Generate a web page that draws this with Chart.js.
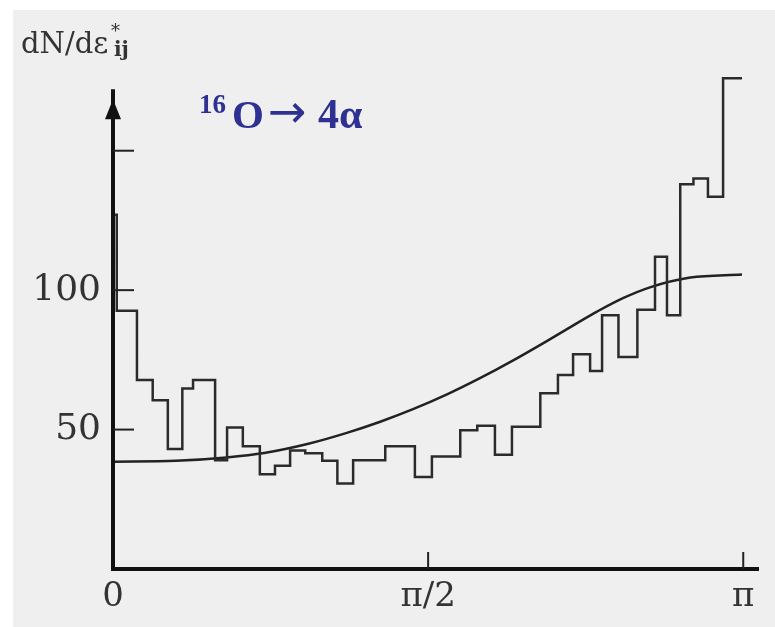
<!DOCTYPE html>
<html>
<head>
<meta charset="utf-8">
<script src="https://cdn.jsdelivr.net/npm/chart.js@4/dist/chart.umd.min.js"></script>
<style>
html,body{margin:0;padding:0;background:#fff;}
canvas{display:block;}
</style>
</head>
<body>
<canvas id="c" width="775" height="627"></canvas>
<script>
// ---- data (x in units of pi) ----
const binEdges = [0, 0.006, 0.038, 0.063, 0.087, 0.110, 0.127, 0.162, 0.181, 0.206,
  0.233, 0.257, 0.281, 0.305, 0.332, 0.356, 0.381, 0.432, 0.479, 0.506,
  0.551, 0.578, 0.606, 0.633, 0.678, 0.706, 0.730, 0.757, 0.776, 0.802,
  0.832, 0.860, 0.879, 0.900, 0.921, 0.944, 0.968, 0.998];
const binCounts = [127, 92.6, 67.8, 60.5, 43, 64.7, 67.8, 39, 50.7, 44,
  34, 37, 42.5, 41.5, 38.8, 30.7, 39, 44, 33, 40.3,
  49.8, 51.4, 41, 51, 63, 69.6, 77, 71, 91, 76,
  93, 112, 91, 138, 140, 133.5, 176];
const curveX = [0, 0.1, 0.18, 0.24, 0.31, 0.371, 0.424, 0.476, 0.53, 0.583, 0.635, 0.689, 0.741, 0.768, 0.81, 0.852, 0.916, 0.998];
const curveY = [38.5, 38.8, 40, 41.6, 44.9, 48.8, 52.8, 57.3, 62.6, 68.5, 74.8, 81.8, 88.8, 92.3, 97.2, 101, 104.5, 105.6];
const xTickValues = [0, 0.5, 1];
const xTickLabels = ['0', 'π/2', 'π'];
const yTickValues = [50, 100, 150];
const yTickLabels = ['50', '100', ''];
const yLabelText = 'dN/dε';
const titleParts = ['16', 'O', '→', '4α'];

const histPts = binEdges.map((e, i) => ({x: e, y: binCounts[Math.min(i, binCounts.length - 1)]}));
const curvePts = curveX.map((x, i) => ({x: x, y: curveY[i]}));

const deco = {
  id: 'deco',
  beforeDraw(chart) {
    const ctx = chart.ctx;
    ctx.save();
    ctx.fillStyle = '#ffffff';
    ctx.fillRect(0, 0, chart.width, chart.height);
    ctx.fillStyle = '#efefef';
    ctx.fillRect(13, 10, chart.width - 13, chart.height - 10);
    ctx.restore();
  },
  afterDraw(chart) {
    const ctx = chart.ctx;
    const xs = chart.scales.x, ys = chart.scales.y;
    const x0 = xs.getPixelForValue(0);
    const yb = ys.getPixelForValue(0);
    ctx.save();
    ctx.strokeStyle = '#111';
    ctx.lineCap = 'butt';
    // y axis
    const yTop = ys.getPixelForValue(172);
    ctx.lineWidth = 4;
    ctx.beginPath(); ctx.moveTo(x0, yb + 2); ctx.lineTo(x0, yTop); ctx.stroke();
    // arrow head
    ctx.fillStyle = '#111';
    ctx.beginPath();
    ctx.moveTo(x0, yTop + 10);
    ctx.lineTo(x0 - 8, yTop + 30);
    ctx.lineTo(x0 + 8, yTop + 30);
    ctx.closePath(); ctx.fill();
    // x axis
    ctx.beginPath(); ctx.moveTo(x0 - 2, yb); ctx.lineTo(chart.chartArea.right, yb); ctx.stroke();
    // inner ticks
    ctx.lineWidth = 2;
    ctx.strokeStyle = '#222';
    yTickValues.forEach(v => {
      const y = ys.getPixelForValue(v);
      ctx.beginPath(); ctx.moveTo(x0, y); ctx.lineTo(x0 + 21, y); ctx.stroke();
    });
    xTickValues.slice(1).forEach(v => {
      const x = xs.getPixelForValue(v);
      ctx.beginPath(); ctx.moveTo(x, yb); ctx.lineTo(x, yb - 17); ctx.stroke();
    });
    // y label
    ctx.fillStyle = '#333';
    ctx.textBaseline = 'alphabetic';
    ctx.textAlign = 'left';
    ctx.font = '29px "DejaVu Serif", serif';
    ctx.fillText(yLabelText, 21, 53);
    ctx.font = '18px "DejaVu Serif", serif';
    ctx.fillText('*', 111, 37);
    ctx.font = 'bold 20px "DejaVu Serif", serif';
    ctx.fillText('ij', 114, 56);
    // title
    ctx.fillStyle = '#2e3192';
    ctx.font = 'bold 27px "Liberation Serif", serif';
    ctx.fillText(titleParts[0], 199, 113);
    ctx.font = 'bold 41px "Liberation Serif", serif';
    ctx.fillText(titleParts[1], 232, 128);
    ctx.font = '46px "DejaVu Sans", sans-serif';
    ctx.fillText(titleParts[2], 268, 127);
    ctx.font = 'bold 42px "Liberation Serif", serif';
    ctx.fillText(titleParts[3], 318, 128);
    ctx.restore();
  }
};

new Chart(document.getElementById('c'), {
  type: 'line',
  data: {
    datasets: [
      {data: histPts, stepped: 'before', borderColor: '#2b2b2b', borderWidth: 2.5, pointRadius: 0, fill: false},
      {data: curvePts, cubicInterpolationMode: 'monotone', borderColor: '#222', borderWidth: 2.5, pointRadius: 0, fill: false}
    ]
  },
  options: {
    responsive: false,
    animation: false,
    events: [],
    layout: {padding: {left: 0, right: 16, top: 20, bottom: 0}},
    plugins: {legend: {display: false}, tooltip: {enabled: false}},
    scales: {
      x: {
        type: 'linear', min: 0, max: 1.025,
        afterFit(s) { s.height = 58; },
        afterBuildTicks(s) { s.ticks = xTickValues.map(v => ({value: v})); },
        grid: {display: false, drawTicks: false},
        border: {display: false},
        ticks: {
          padding: 8,
          color: '#333',
          font: {family: '"DejaVu Serif", serif', size: 34},
          callback: (v) => { const i = xTickValues.indexOf(v); return i >= 0 ? xTickLabels[i] : ''; }
        }
      },
      y: {
        type: 'linear', min: 0, max: 192,
        afterFit(s) { s.width = 113; },
        afterBuildTicks(s) { s.ticks = yTickValues.map(v => ({value: v})); },
        grid: {display: false, drawTicks: false},
        border: {display: false},
        ticks: {
          padding: 12,
          color: '#333',
          font: {family: '"DejaVu Serif", serif', size: 36},
          callback: (v) => { const i = yTickValues.indexOf(v); return i >= 0 ? yTickLabels[i] : ''; }
        }
      }
    }
  },
  plugins: [deco]
});
</script>
</body>
</html>
